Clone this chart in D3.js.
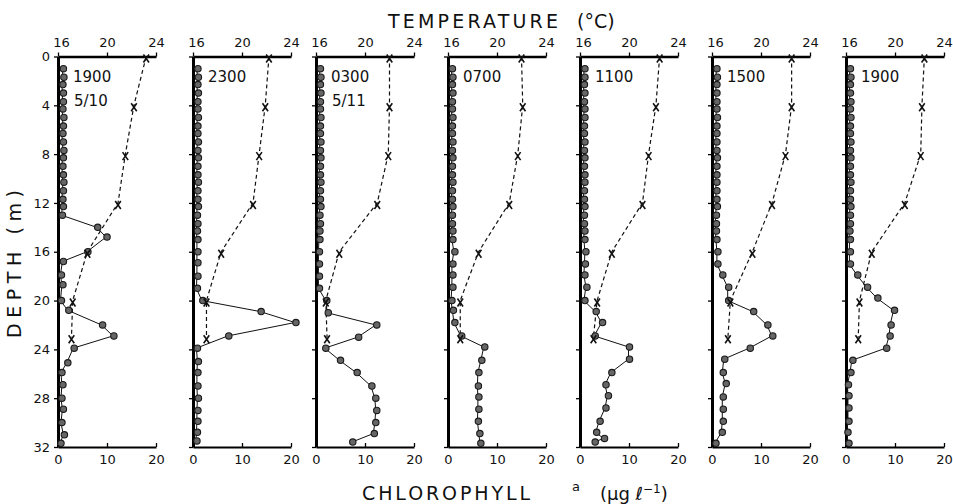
<!DOCTYPE html>
<html>
<head>
<meta charset="utf-8">
<script src="https://cdn.jsdelivr.net/npm/d3@7"></script>
<style>
  body { margin: 0; background: #fff; }
  svg { display: block; }
  text { font-family: "DejaVu Sans", sans-serif; fill: #111; }
</style>
</head>
<body>
<svg id="chart" width="953" height="504"></svg>
<script>
// panel headings
const times = ["1900", "2300", "0300", "0700", "1100", "1500", "1900"];
const dates = ["5/10", "", "5/11", "", "", "", ""];

// temperature (deg C), sampled at these depths (m)
const tempDepths = [0, 4, 8, 12, 16, 20, 23];
const temp1900a = [23.2, 22.2, 21.5, 20.9, 18.4, 17.2, 17.1];
const temp2300 = [22.2, 21.9, 21.4, 20.9, 18.3, 17.1, 17.1];
const temp0300 = [22.0, 22.0, 21.9, 21.0, 17.9, 16.8, 16.9];
const temp0700 = [22.0, 22.1, 21.7, 21.0, 18.5, 17.0, 17.0];
const temp1100 = [22.5, 22.2, 21.6, 21.1, 18.6, 17.4, 17.1];
const temp1500 = [22.5, 22.5, 22.0, 20.9, 19.3, 17.5, 17.3];
const temp1900b = [22.4, 22.2, 22.1, 20.8, 18.1, 17.1, 17.0];

// chlorophyll a near the surface, common depths (m)
const shallowDepths = [1.0, 1.7, 2.3, 3.0, 3.7, 4.3, 5.0, 5.7, 6.3, 7.0, 7.7, 8.3, 9.0, 9.7, 10.3, 11.0, 11.7, 12.3];
const shallowChl = [
  [0.9, 1.0, 0.8, 0.9, 0.9, 0.8, 1.0, 0.9, 0.8, 0.9, 1.0, 0.9, 0.8, 0.9, 1.0, 0.9, 0.8, 0.9],
  [0.8, 0.9, 0.8, 0.9, 0.8, 0.8, 0.9, 0.8, 0.8, 0.9, 0.8, 0.9, 0.8, 0.8, 0.9, 0.8, 0.8, 0.9],
  [0.7, 0.8, 0.7, 0.8, 0.7, 0.7, 0.8, 0.7, 0.7, 0.8, 0.7, 0.8, 0.7, 0.7, 0.8, 0.7, 0.7, 0.8],
  [0.7, 0.8, 0.7, 0.8, 0.7, 0.7, 0.8, 0.7, 0.7, 0.8, 0.7, 0.8, 0.7, 0.7, 0.8, 0.7, 0.7, 0.8],
  [0.8, 0.8, 0.7, 0.8, 0.7, 0.8, 0.8, 0.7, 0.7, 0.8, 0.7, 0.8, 0.7, 0.8, 0.8, 0.7, 0.7, 0.8],
  [0.8, 0.9, 0.8, 0.8, 0.8, 0.8, 0.9, 0.8, 0.8, 0.8, 0.8, 0.9, 0.8, 0.8, 0.8, 0.8, 0.8, 0.9],
  [0.7, 0.8, 0.7, 0.7, 0.8, 0.7, 0.8, 0.7, 0.7, 0.8, 0.7, 0.8, 0.7, 0.7, 0.8, 0.7, 0.7, 0.8]
];

// chlorophyll a below 12.5 m, [depth m, ug/l]
const chl1900a = [[13.0, 0.7], [14.0, 7.9], [14.8, 9.8], [16.0, 5.9], [16.8, 0.9], [17.9, 0.5], [18.7, 0.8], [20.0, 0.5], [20.8, 2.0], [22.0, 8.9], [22.9, 11.2], [23.9, 3.1], [25.1, 1.8], [25.9, 0.6], [26.9, 0.8], [28.0, 0.6], [28.9, 0.9], [30.0, 0.6], [31.0, 1.1], [31.7, 0.4]];
const chl2300 = [[13.0, 0.7], [13.7, 0.8], [14.3, 0.7], [15.0, 0.8], [16.0, 0.8], [16.9, 0.8], [18.0, 0.8], [19.0, 0.7], [20.0, 1.8], [20.9, 13.7], [21.8, 20.8], [22.9, 7.1], [23.9, 0.7], [25.0, 0.9], [25.9, 0.8], [27.0, 0.8], [28.0, 0.9], [29.0, 0.8], [29.9, 0.8], [30.8, 0.7], [31.5, 0.6]];
const chl0300 = [[13.0, 0.6], [13.7, 0.7], [14.3, 0.6], [15.0, 0.6], [16.0, 0.5], [17.0, 0.5], [18.0, 0.5], [19.0, 0.5], [20.0, 2.0], [21.0, 2.3], [22.0, 12.2], [23.0, 8.5], [23.9, 1.8], [24.9, 4.8], [25.9, 8.2], [27.0, 11.2], [28.0, 12.0], [29.0, 12.2], [30.0, 12.0], [30.9, 11.7], [31.6, 7.3]];
const chl0700 = [[13.0, 0.7], [13.7, 0.7], [14.3, 0.8], [15.0, 0.8], [16.0, 1.2], [17.0, 0.8], [17.9, 0.8], [18.9, 0.8], [20.0, 0.6], [20.8, 0.9], [21.8, 1.2], [22.9, 2.6], [23.8, 7.3], [24.9, 6.7], [25.9, 6.1], [27.0, 6.0], [27.9, 6.1], [28.9, 6.1], [29.9, 6.0], [30.9, 6.3], [31.7, 6.5]];
const chl1100 = [[13.0, 0.7], [13.7, 0.7], [14.3, 0.8], [15.0, 0.8], [16.0, 1.0], [17.0, 0.9], [17.9, 0.8], [18.9, 1.2], [20.0, 0.8], [20.9, 3.1], [21.8, 4.4], [22.9, 2.9], [23.8, 9.9], [24.8, 9.9], [25.9, 6.3], [26.9, 5.1], [27.8, 5.6], [28.8, 5.1], [29.9, 3.9], [30.8, 3.2], [31.3, 4.8], [31.6, 2.9]];
const chl1500 = [[13.0, 0.7], [13.7, 0.7], [14.3, 0.7], [15.0, 0.8], [16.0, 1.0], [17.0, 1.0], [17.9, 2.0], [18.9, 3.2], [20.0, 3.2], [20.9, 8.3], [22.0, 11.2], [22.9, 12.2], [23.9, 7.6], [24.8, 2.4], [25.9, 2.1], [26.8, 2.7], [27.9, 2.1], [28.9, 2.1], [29.9, 2.1], [30.8, 1.9], [31.7, 0.6]];
const chl1900b = [[13.0, 0.7], [13.7, 0.7], [14.3, 0.6], [15.0, 0.7], [16.0, 0.7], [17.0, 0.7], [17.9, 2.2], [18.9, 4.2], [19.8, 6.3], [20.8, 9.7], [22.0, 9.0], [22.9, 8.8], [23.9, 8.1], [24.9, 1.2], [25.9, 0.8], [26.9, 0.3], [27.8, 0.4], [28.8, 0.4], [29.9, 0.4], [30.8, 0.2], [31.7, 0.4]];

const depthTicks = [0, 4, 8, 12, 16, 20, 24, 28, 32];
const tempTicks = [16, 20, 24];
const chlTicks = [0, 10, 20];

const temps = [temp1900a, temp2300, temp0300, temp0700, temp1100, temp1500, temp1900b];
const chls = [chl1900a, chl2300, chl0300, chl0700, chl1100, chl1500, chl1900b];

const svg = d3.select("#chart");
const panelLeft = [58, 193, 316, 448, 580, 712, 846];
const panelW = 98;
const y = d3.scaleLinear().domain([0, 32]).range([56.5, 447]);

times.forEach((time, i) => {
    const left = panelLeft[i];
    const x = d3.scaleLinear().domain([0, 20]).range([left, left + panelW]);
    const t = d3.scaleLinear().domain([16, 24]).range([left, left + panelW]);
    const g = svg.append("g");

    // top temperature axis
    const top = g.append("g")
        .attr("transform", `translate(0,${y(0)})`)
        .call(d3.axisTop(t).tickValues(tempTicks).tickSize(4).tickSizeOuter(0).tickPadding(6));
    top.select(".domain").attr("stroke-width", 2.4);
    top.selectAll(".tick line").attr("stroke-width", 1.3);
    top.selectAll("text").attr("font-size", 13).attr("font-family", "DejaVu Sans").attr("dx", (d) => d === 16 ? 3 : 0);

    // bottom chlorophyll axis
    const bot = g.append("g")
        .attr("transform", `translate(0,${y(32)})`)
        .call(d3.axisBottom(x).tickValues(chlTicks).tickSize(-4).tickSizeOuter(0).tickPadding(8));
    bot.select(".domain").attr("stroke-width", 2);
    bot.selectAll(".tick line").attr("stroke-width", 1.3);
    bot.selectAll("text").attr("font-size", 13).attr("font-family", "DejaVu Sans");

    // depth axis
    const lft = g.append("g")
        .attr("transform", `translate(${left},0)`)
        .call(d3.axisLeft(y).tickValues(depthTicks).tickSize(4).tickSizeOuter(0).tickPadding(4)
            .tickFormat(i === 0 ? d3.format("d") : () => ""));
    lft.select(".domain").attr("stroke-width", 3);
    lft.selectAll(".tick line").attr("stroke-width", 1.3);
    lft.selectAll("text").attr("font-size", 13).attr("font-family", "DejaVu Sans");

    // temperature profile
    const tempPts = tempDepths.map((d, k) => [temps[i][k], d]);
    g.append("path")
        .datum(tempPts)
        .attr("fill", "none")
        .attr("stroke", "#111")
        .attr("stroke-width", 1.2)
        .attr("stroke-dasharray", "4,3")
        .attr("d", d3.line().x(p => t(p[0])).y(p => y(p[1])));

    // chlorophyll profile
    const chlPts = shallowDepths.map((d, k) => [d, shallowChl[i][k]]).concat(chls[i]);
    g.append("path")
        .datum(chlPts)
        .attr("fill", "none")
        .attr("stroke", "#111")
        .attr("stroke-width", 1)
        .attr("d", d3.line().x(p => x(p[1])).y(p => y(p[0])));

    g.selectAll("circle")
        .data(chlPts)
        .join("circle")
        .attr("cx", p => x(p[1]) + 1)
        .attr("cy", p => y(p[0]))
        .attr("r", 3.2)
        .attr("fill", "#666")
        .attr("stroke", "#1a1a1a")
        .attr("stroke-width", 1.1);

    g.selectAll("path.xmark")
        .data(tempPts)
        .join("path")
        .attr("class", "xmark")
        .attr("transform", p => `translate(${t(p[0])},${y(p[1]) + 2})`)
        .attr("d", "M-2.8,-4L2.8,4M2.8,-4L-2.8,4")
        .attr("stroke", "#111")
        .attr("stroke-width", 1.6);

    g.append("text")
        .attr("x", left + 15)
        .attr("y", 82)
        .attr("font-size", 15)
        .text(time);
    if (dates[i]) {
        g.append("text")
            .attr("x", left + 16)
            .attr("y", 106)
            .attr("font-size", 15)
            .text(dates[i]);
    }
});

// axis titles
svg.append("text")
    .attr("x", 388).attr("y", 28)
    .attr("font-size", 19)
    .attr("textLength", 170).attr("lengthAdjust", "spacing")
    .text("TEMPERATURE");
svg.append("text")
    .attr("x", 577).attr("y", 28)
    .attr("font-size", 19)
    .text("(°C)");

svg.append("text")
    .attr("x", 362).attr("y", 500)
    .attr("font-size", 19)
    .attr("textLength", 168).attr("lengthAdjust", "spacing")
    .text("CHLOROPHYLL");
svg.append("text")
    .attr("x", 572).attr("y", 491)
    .attr("font-size", 13)
    .text("a");
const unit = svg.append("text")
    .attr("x", 600).attr("y", 500)
    .attr("font-size", 18);
unit.append("tspan").text("(μg ℓ");
unit.append("tspan").attr("dy", -7).attr("font-size", 12).text("−1");
unit.append("tspan").attr("dy", 7).text(")");

svg.append("text")
    .attr("transform", "translate(21,264) rotate(-90)")
    .attr("text-anchor", "middle")
    .attr("font-size", 19)
    .attr("textLength", 148).attr("lengthAdjust", "spacing")
    .text("DEPTH  (m)");
</script>
</body>
</html>
